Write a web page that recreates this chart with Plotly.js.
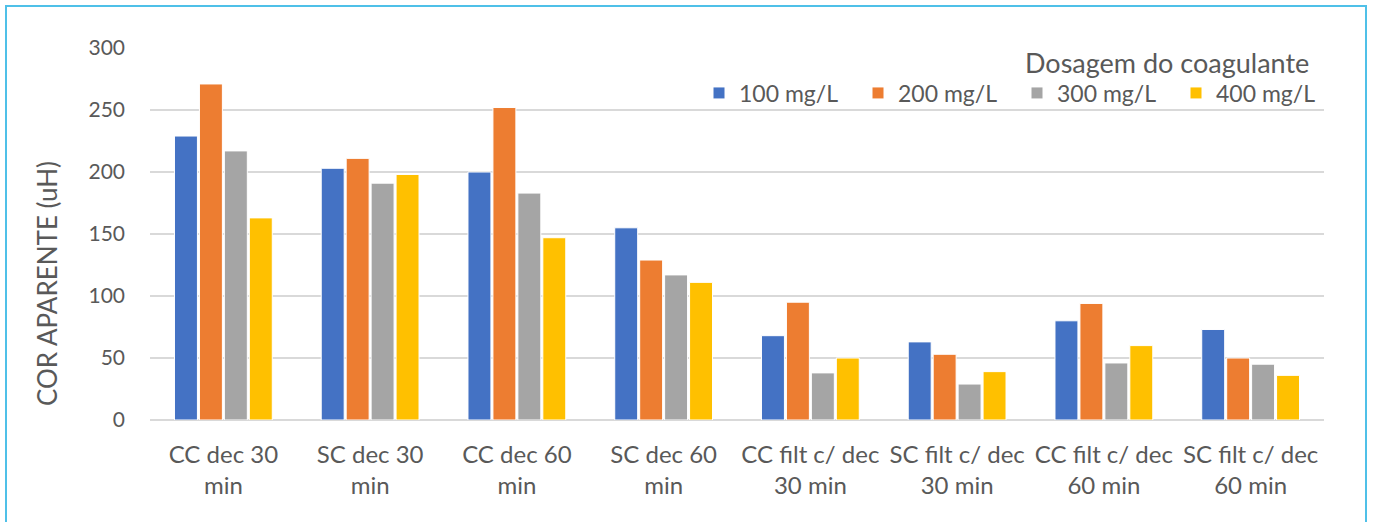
<!DOCTYPE html>
<html>
<head>
<meta charset="utf-8">
<script src="https://cdn.plot.ly/plotly-3.0.1.min.js"></script>
<style>
  html, body { margin: 0; padding: 0; background: #ffffff; overflow: hidden; }
  #wrap { position: relative; width: 1373px; height: 522px; }
  #chart { position: absolute; left: 0; top: 0; width: 1373px; height: 522px; }
  #frame { position: absolute; left: 5px; top: 5px; width: 1358px; height: 540px;
           border: 2px solid #4FC0E8; pointer-events: none; }
</style>
</head>
<body>
<div id="wrap">
  <div id="chart"></div>
  <div id="frame"></div>
</div>
<script>
const categories = [
  "CC dec 30<br>min", "SC dec 30<br>min", "CC dec 60<br>min", "SC dec 60<br>min",
  "CC filt c/ dec<br>30 min", "SC filt c/ dec<br>30 min",
  "CC filt c/ dec<br>60 min", "SC filt c/ dec<br>60 min"
];
const seriesNames = ["100 mg/L", "200 mg/L", "300 mg/L", "400 mg/L"];
const dose100 = [229, 203, 200, 155, 68, 63, 80, 73];
const dose200 = [271, 211, 252, 129, 95, 53, 94, 50];
const dose300 = [217, 191, 183, 117, 38, 29, 46, 45];
const dose400 = [163, 198, 147, 111, 50, 39, 60, 36];
const seriesColors = ["#4472C4", "#ED7D31", "#A5A5A5", "#FFC000"];
const yTickVals = [0, 50, 100, 150, 200, 250, 300];
const legendTitle = "Dosagem do coagulante";
const yTitle = "COR APARENTE (uH)";

const allValues = [dose100, dose200, dose300, dose400];
const textColor = "#595959";
const fontFamily = "Lato, 'Open Sans', sans-serif";

const data = allValues.map((vals, i) => ({
  type: "bar",
  name: seriesNames[i],
  x: categories,
  y: vals,
  marker: { color: seriesColors[i], line: { color: "#ffffff", width: 1 } },
  hoverinfo: "x+y+name"
}));

const layout = {
  width: 1373,
  height: 522,
  margin: { l: 150, r: 49, t: 48, b: 102, pad: 0, autoexpand: false },
  paper_bgcolor: "#ffffff",
  plot_bgcolor: "#ffffff",
  barmode: "group",
  bargap: 0.32,
  bargroupgap: 0.08,
  font: { family: fontFamily, color: textColor, size: 19 },
  showlegend: true,
  legend: {
    orientation: "h",
    x: (699 - 150) / 1174, xanchor: "left",
    y: (420 - 93) / 372, yanchor: "middle",
    bgcolor: "rgba(255,255,255,0)",
    font: { family: fontFamily, size: 23, color: textColor },
    itemwidth: 30,
    entrywidth: 114,
    entrywidthmode: "pixels",
    tracegroupgap: 0,
    traceorder: "normal"
  },
  xaxis: {
    type: "category",
    showgrid: false,
    showline: false,
    zeroline: false,
    ticks: "",
    tickangle: 0,
    ticklabelstandoff: 18,
    tickfont: { family: fontFamily, size: 24, color: textColor },
    automargin: false
  },
  yaxis: {
    range: [0, 300],
    tickvals: yTickVals,
    ticktext: yTickVals.map(String),
    showgrid: true,
    gridcolor: "#D9D9D9",
    gridwidth: 1.5,
    zeroline: true,
    zerolinecolor: "#D9D9D9",
    zerolinewidth: 1.5,
    showline: false,
    ticks: "",
    ticklabelstandoff: 24,
    tickfont: { family: fontFamily, size: 21, color: textColor },
    automargin: false
  },
  annotations: [{
    text: yTitle,
    xref: "paper", yref: "paper",
    x: (47 - 150) / 1174, y: (420 - 284) / 372,
    xanchor: "center", yanchor: "middle",
    textangle: -90,
    showarrow: false,
    font: { family: fontFamily, size: 26, color: textColor }
  }, {
    text: legendTitle,
    xref: "paper", yref: "paper",
    x: (1311 - 150) / 1174, y: (420 - 63) / 372,
    xanchor: "right", yanchor: "middle",
    showarrow: false,
    font: { family: fontFamily, size: 27, color: textColor }
  }]
};

Plotly.newPlot("chart", data, layout, { displayModeBar: false, staticPlot: true });
</script>
</body>
</html>
